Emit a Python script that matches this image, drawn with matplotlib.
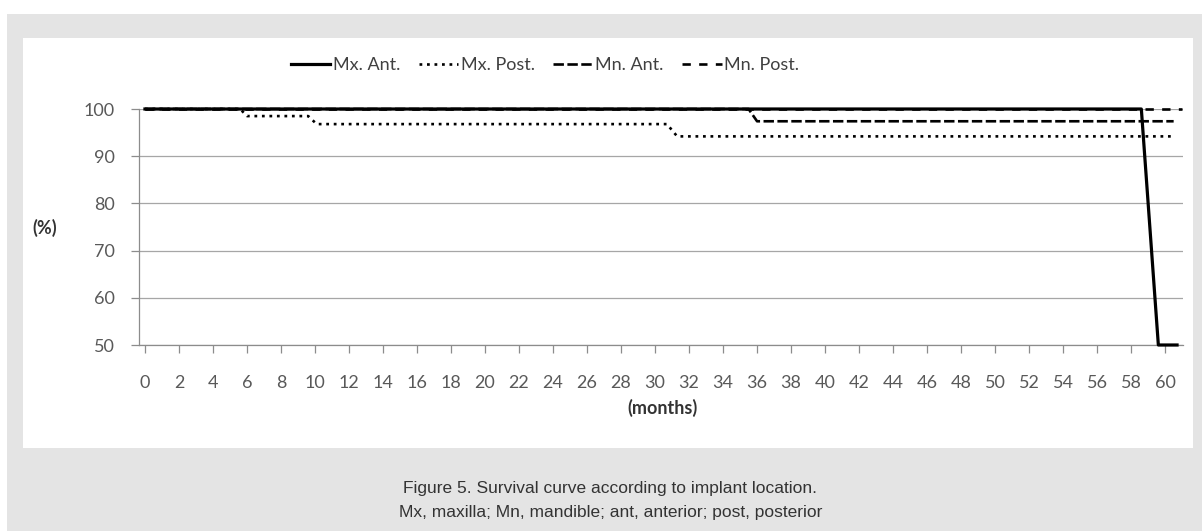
import matplotlib
matplotlib.use('Agg')
import matplotlib.pyplot as plt
from matplotlib.patches import Rectangle

# survival data (months, %)
mx_ant_x = [0, 58.6, 59.6, 60.7]
mx_ant_y = [100, 100, 50, 50]
mx_post_x = [0, 5.6, 6.0, 9.6, 10.1, 30.7, 31.3, 60.6]
mx_post_y = [100, 100, 98.5, 98.5, 96.8, 96.8, 94.2, 94.2]
mn_ant_x = [0, 35.5, 36.0, 60.5]
mn_ant_y = [100, 100, 97.4, 97.4]
mn_post_x = [0, 61.0]
mn_post_y = [100, 100]

x_ticks = list(range(0, 61, 2))
y_ticks = [50, 60, 70, 80, 90, 100]

W, H = 1202, 531

plt.rcParams['font.family'] = ['Lato', 'DejaVu Sans']
plt.rcParams['lines.scale_dashes'] = False

fig = plt.figure(figsize=(W / 100, H / 100), dpi=100)
fig.patch.set_facecolor('white')

def fx(x):
    return x / W

def fy(y):
    return 1 - y / H

# gray page + white chart panel
fig.patches.append(Rectangle((fx(7), 0), 1 - fx(7), fy(14), transform=fig.transFigure,
                             facecolor='#e4e4e4', edgecolor='none', zorder=-10))
fig.patches.append(Rectangle((fx(23), fy(448)), fx(1193) - fx(23), fy(38) - fy(448),
                             transform=fig.transFigure, facecolor='white', edgecolor='none', zorder=-9))

ax = fig.add_axes([fx(139), fy(345), fx(1183) - fx(139), fy(109) - fy(345)])
ax.set_facecolor('none')

ax.plot(mn_post_x, mn_post_y, color='black', lw=1.9, dashes=(6, 6), label='Mn. Post.', clip_on=False, zorder=3)
ax.plot(mn_ant_x, mn_ant_y, color='black', lw=1.9, dashes=(7.5, 2.5), label='Mn. Ant.', clip_on=False, zorder=4)
ax.plot(mx_post_x, mx_post_y, color='black', lw=1.9, dashes=(2.0, 3.4), label='Mx. Post.', clip_on=False, zorder=5)
ax.plot(mx_ant_x, mx_ant_y, color='black', lw=2.3, label='Mx. Ant.', clip_on=False, zorder=6)

ax.set_xlim(-0.35, 61.05)
ax.set_ylim(50, 100)
ax.set_xticks(x_ticks)
ax.set_yticks(y_ticks)
ax.grid(axis='y', color='#a6a6a6', lw=0.9)
ax.set_axisbelow(True)

for s in ['top', 'right']:
    ax.spines[s].set_visible(False)
for s in ['left', 'bottom']:
    ax.spines[s].set_color('#8c8c8c')
    ax.spines[s].set_linewidth(0.9)

ax.tick_params(axis='both', colors='#8c8c8c', labelcolor='#595959', labelsize=13,
               length=5.5, width=0.9)
ax.tick_params(axis='y', pad=12)
ax.tick_params(axis='x', pad=16)

fig.text(fx(45), fy(228), '(%)', fontsize=13, fontweight='bold', color='#333333',
         ha='center', va='center')
fig.text(fx(662), fy(408), '(months)', fontsize=13, fontweight='bold', color='#333333',
         ha='center', va='center')

handles, labels = ax.get_legend_handles_labels()
order = [3, 2, 1, 0]
fig.legend([handles[i] for i in order], [labels[i] for i in order],
           loc='center', bbox_to_anchor=(fx(545), fy(65)), ncol=4, frameon=False,
           fontsize=13, handlelength=2.2, handletextpad=0.15, columnspacing=1.0,
           labelcolor='#404040')

cap_font = ['Liberation Sans', 'DejaVu Sans']
fig.text(fx(610), fy(488), 'Figure 5. Survival curve according to implant location.',
         fontsize=12.5, family=cap_font, color='#333333', ha='center', va='center')
fig.text(fx(611), fy(512), 'Mx, maxilla; Mn, mandible; ant, anterior; post, posterior',
         fontsize=12.5, family=cap_font, color='#333333', ha='center', va='center')

fig.savefig('out.png', dpi=100, facecolor=fig.get_facecolor())
